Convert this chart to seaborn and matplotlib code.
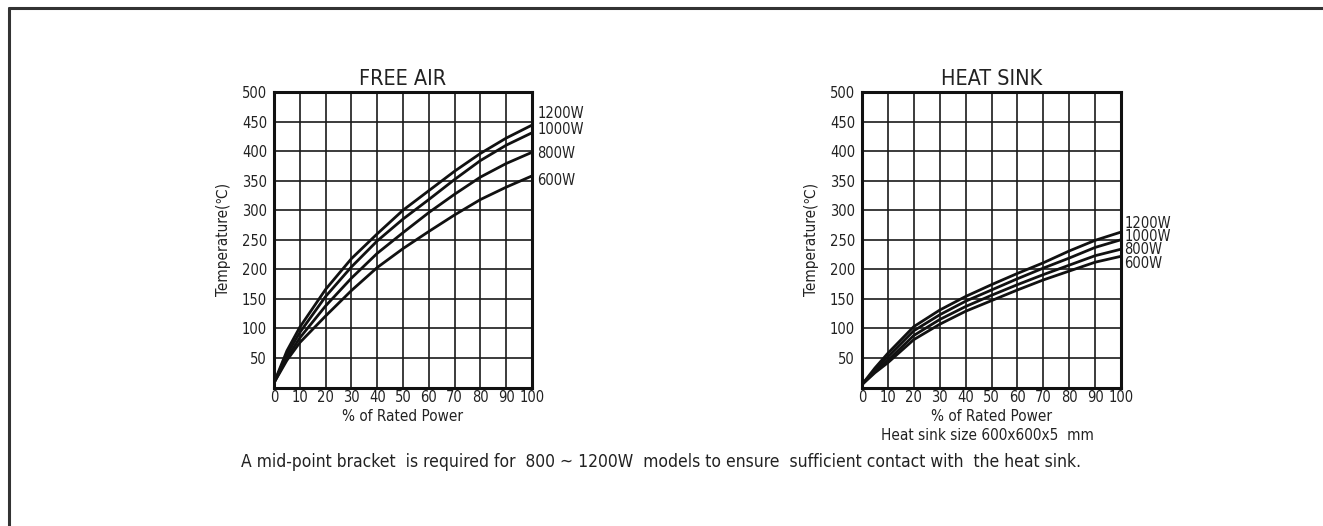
import numpy as np
import pandas as pd
import matplotlib
matplotlib.use("Agg")
import matplotlib.pyplot as plt
import seaborn as sns
from matplotlib.lines import Line2D

# ---------------- data ----------------
power_pct = [0, 5, 10, 20, 30, 40, 50, 60, 70, 80, 90, 100]
series_names = ["1200W", "1000W", "800W", "600W"]

free_1200 = [8, 62, 102, 166, 218, 260, 300, 333, 366, 396, 422, 444]
free_1000 = [8, 56, 93, 154, 204, 248, 285, 318, 352, 384, 410, 431]
free_800 = [8, 50, 84, 138, 185, 227, 262, 296, 327, 356, 379, 398]
free_600 = [8, 46, 76, 121, 164, 203, 235, 264, 292, 318, 339, 358]

sink_1200 = [5, 33, 58, 103, 131, 154, 174, 193, 211, 231, 249, 263]
sink_1000 = [5, 30, 52, 96, 123, 146, 165, 184, 202, 219, 237, 250]
sink_800 = [5, 27, 46, 88, 115, 137, 156, 174, 191, 207, 223, 234]
sink_600 = [5, 25, 42, 81, 107, 129, 147, 165, 182, 197, 212, 222]

# label anchor values (right-hand annotations)
free_label_y = [464, 437, 396, 351]
sink_label_y = [278, 255, 233, 210]

x_ticks = [0, 10, 20, 30, 40, 50, 60, 70, 80, 90, 100]
y_ticks = [50, 100, 150, 200, 250, 300, 350, 400, 450, 500]

titles = ["FREE AIR", "HEAT SINK"]
x_label = "% of Rated Power"
y_label = "Temperature(\u2103)"
sink_note = "Heat sink size 600x600x5  mm"
footnote = "A mid-point bracket  is required for  800 ~ 1200W  models to ensure  sufficient contact with  the heat sink."


def long_df(vals):
    rows = []
    for name, v in zip(series_names, vals):
        for x, y in zip(power_pct, v):
            rows.append({"pct": x, "temp": y, "model": name})
    return pd.DataFrame(rows)


df_free = long_df([free_1200, free_1000, free_800, free_600])
df_sink = long_df([sink_1200, sink_1000, sink_800, sink_600])

# ---------------- style ----------------
sns.set_theme(style="white")
plt.rcParams["font.family"] = ["DejaVu Sans"]
plt.rcParams["font.stretch"] = "condensed"
TXT = "#222222"

W, H = 1323, 526
fig = plt.figure(figsize=(W / 100, H / 100), dpi=100)
fig.patch.set_facecolor("white")

# outer frame lines (left and top)
fig.add_artist(Line2D([9 / W, 9 / W], [0, 1 - 8 / H], color="#333333", lw=2.2))
fig.add_artist(Line2D([9 / W, 1], [1 - 8 / H, 1 - 8 / H], color="#333333", lw=2.2))

axes_px = [(274, 532), (862, 1121)]
top_px, bot_px = 92, 387.5

palette = {n: "#111111" for n in series_names}

for i, (df, (l, r)) in enumerate(zip([df_free, df_sink], axes_px)):
    ax = fig.add_axes([l / W, 1 - bot_px / H, (r - l) / W, (bot_px - top_px) / H])
    ax.set_facecolor("white")
    ax.set_xlim(0, 100)
    ax.set_ylim(0, 500)
    ax.set_xticks(x_ticks)
    ax.set_yticks(y_ticks)
    ax.grid(True, color="#1a1a1a", lw=1.2)
    ax.set_axisbelow(True)
    sns.lineplot(data=df, x="pct", y="temp", hue="model", palette=palette,
                 lw=2.0, legend=False, ax=ax, zorder=3)
    for s in ax.spines.values():
        s.set_visible(True)
        s.set_color("#111111")
        s.set_linewidth(2.2)
    ax.tick_params(axis="x", length=0, labelsize=10.5, colors=TXT, pad=2)
    ax.tick_params(axis="y", length=0, labelsize=10.5, colors=TXT, pad=5)
    ax.set_xlabel(x_label, fontsize=11, color=TXT, labelpad=3)
    ax.set_ylabel(y_label, fontsize=11, color=TXT, labelpad=8)
    ax.set_title(titles[i], fontsize=15.5, color=TXT, pad=5)
    lab_y = free_label_y if i == 0 else sink_label_y
    for name, yv in zip(series_names, lab_y):
        ax.text(102 if i == 0 else 101.2, yv, name, fontsize=10.5, color=TXT,
                ha="left", va="center", clip_on=False)

fig.text(987 / W, 1 - 436 / H, sink_note, fontsize=11, color=TXT,
         ha="center", va="center")
fig.text(661 / W, 1 - 462 / H, footnote, fontsize=12.5, color=TXT,
         ha="center", va="center")

fig.savefig("out.png", dpi=100, facecolor="white")
